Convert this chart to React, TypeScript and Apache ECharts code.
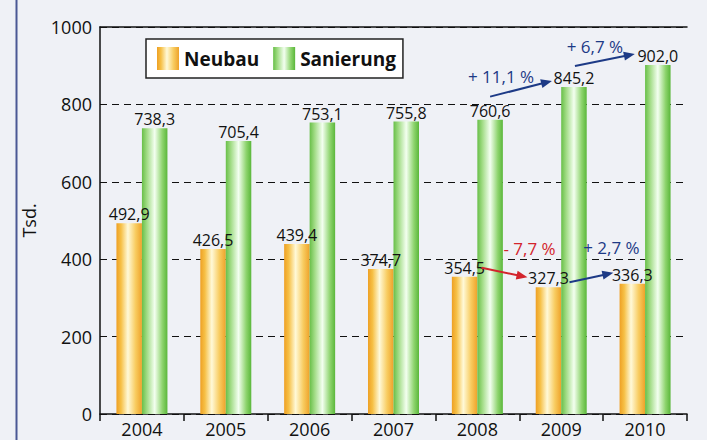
import React, { useEffect, useRef } from "react";
import * as echarts from "echarts";

const years = ["2004", "2005", "2006", "2007", "2008", "2009", "2010"];
const neubau = [492.9, 426.5, 439.4, 374.7, 354.5, 327.3, 336.3];
const sanierung = [738.3, 705.4, 753.1, 755.8, 760.6, 845.2, 902.0];
const yMin = 0;
const yMax = 1000;
const yInterval = 200;

const BLUE = "#1d3a86";
const RED = "#d3242c";
const FONT = '"Open Sans", "Liberation Sans", sans-serif';
const BAR_W = 25.5;

// annotations: arrow from one bar top to another (offsets in px from bar top centre)
const annotations = [
  { text: "+ 11,1 %", color: BLUE, s: 1, from: 4, to: 5, fo: [0, -23], to_: [-22, -6], tOff: [-20, -12] },
  { text: "+ 6,7 %", color: BLUE, s: 1, from: 5, to: 6, fo: [1, -21], to_: [-23, -11], tOff: [-10, -13] },
  { text: "- 7,7 %", color: RED, s: 0, from: 4, to: 5, fo: [17, -9], to_: [-21, -10], tOff: [25, -24] },
  { text: "+ 2,7 %", color: BLUE, s: 0, from: 5, to: 6, fo: [21, -5], to_: [-19, -11], tOff: [20, -30] },
];

const fmt = (v: number) => v.toFixed(1).replace(".", ",");

const orangeGrad = new echarts.graphic.LinearGradient(0, 0, 1, 0, [
  { offset: 0, color: "#eea024" },
  { offset: 0.18, color: "#f6c046" },
  { offset: 0.45, color: "#fff9d8" },
  { offset: 0.75, color: "#f8cc60" },
  { offset: 1, color: "#eea22a" },
]);
const greenGrad = new echarts.graphic.LinearGradient(0, 0, 1, 0, [
  { offset: 0, color: "#68bf48" },
  { offset: 0.2, color: "#a2dc86" },
  { offset: 0.5, color: "#f3fff0" },
  { offset: 0.8, color: "#8ed46e" },
  { offset: 1, color: "#5ab73a" },
]);

export default function App() {
  const ref = useRef<HTMLDivElement>(null);
  useEffect(() => {
    if (!ref.current) return;
    const chart = echarts.init(ref.current, undefined, { renderer: "svg" });
    const labelCfg = {
      show: true,
      position: "top",
      distance: 1,
      fontSize: 16,
      fontFamily: FONT,
      color: "#111",
      formatter: (p: any) => fmt(p.value),
    };
    chart.setOption({
      animation: false,
      backgroundColor: "#eff1f6",
      textStyle: { fontFamily: FONT },
      grid: { left: 100, right: 20, top: 27, bottom: 26, containLabel: false },
      legend: {
        left: 146,
        top: 39,
        icon: "rect",
        itemWidth: 22,
        itemHeight: 23,
        itemGap: 14,
        padding: [8, 7, 8, 11],
        backgroundColor: "#ffffff",
        borderColor: "#222",
        borderWidth: 1.5,
        textStyle: { fontSize: 19, fontWeight: "bold", color: "#111", fontFamily: FONT },
        data: ["Neubau", "Sanierung"],
      },
      xAxis: [
        {
          type: "category",
          data: years,
          axisLine: { lineStyle: { color: "#111", width: 1.5 } },
          axisTick: { show: true, length: 7, lineStyle: { color: "#111", width: 1.5 } },
          axisLabel: { fontSize: 18, lineHeight: 18, color: "#111", margin: 6, fontFamily: FONT },
        },
        {
          type: "category",
          position: "top",
          data: years,
          axisLine: { show: true, lineStyle: { color: "#111", width: 1.5 } },
          axisTick: { show: false },
          axisLabel: { show: false },
        },
      ],
      yAxis: {
        type: "value",
        min: yMin,
        max: yMax,
        interval: yInterval,
        name: "Tsd.",
        nameLocation: "middle",
        nameGap: 62,
        nameTextStyle: { fontSize: 18, color: "#111", fontFamily: FONT },
        axisLine: { show: true, lineStyle: { color: "#111", width: 1.5 } },
        axisTick: { show: false },
        axisLabel: { fontSize: 18, color: "#111", margin: 8, fontFamily: FONT, formatter: (v: number) => String(v) },
        splitLine: { show: true, lineStyle: { color: "#111", type: [7, 5], width: 1.2 } },
      },
      series: [
        {
          name: "Neubau",
          type: "bar",
          data: neubau,
          barWidth: BAR_W,
          barGap: "0%",
          itemStyle: { color: orangeGrad },
          label: labelCfg,
        },
        {
          name: "Sanierung",
          type: "bar",
          data: sanierung,
          barWidth: BAR_W,
          barGap: "0%",
          itemStyle: { color: greenGrad },
          label: labelCfg,
        },
      ],
    });

    const seriesData = [neubau, sanierung];
    const barTop = (s: number, i: number) => {
      const p = chart.convertToPixel({ xAxisIndex: 0, yAxisIndex: 0 }, [i, seriesData[s][i]]) as number[];
      const dx = s === 0 ? -BAR_W / 2 : BAR_W / 2;
      return [p[0] + dx, p[1]];
    };

    const graphics: any[] = [
      { type: "rect", shape: { x: 15.5, y: 0, width: 2, height: 440 }, style: { fill: "#4a5894" }, silent: true },
    ];
    annotations.forEach((a) => {
      const A = barTop(a.s, a.from);
      const B = barTop(a.s, a.to);
      const x1 = A[0] + a.fo[0];
      const y1 = A[1] + a.fo[1];
      const x2 = B[0] + a.to_[0];
      const y2 = B[1] + a.to_[1];
      const dx = x2 - x1;
      const dy = y2 - y1;
      const len = Math.sqrt(dx * dx + dy * dy);
      const ux = dx / len;
      const uy = dy / len;
      const nx = -uy;
      const ny = ux;
      const L = 11;
      const W = 4.5;
      const bx = x2 - ux * L;
      const by = y2 - uy * L;
      graphics.push({
        type: "line",
        shape: { x1, y1, x2: x2 - ux * L * 0.6, y2: y2 - uy * L * 0.6 },
        style: { stroke: a.color, lineWidth: 2 },
        silent: true,
        z: 10,
      });
      graphics.push({
        type: "polygon",
        shape: { points: [[x2, y2], [bx + nx * W, by + ny * W], [bx - nx * W, by - ny * W]] },
        style: { fill: a.color },
        silent: true,
        z: 10,
      });
      const mx = (x1 + x2) / 2;
      const my = (y1 + y2) / 2;
      graphics.push({
        type: "text",
        x: mx + a.tOff[0],
        y: my + a.tOff[1],
        style: {
          text: a.text,
          fill: a.color,
          fontSize: 17,
          fontFamily: FONT,
          align: "center",
          verticalAlign: "middle",
        },
        silent: true,
        z: 10,
      });
    });
    chart.setOption({ graphic: graphics });

    return () => chart.dispose();
  }, []);
  return (
    <div
      ref={ref}
      style={{ position: "fixed", left: 0, top: 0, width: 707, height: 440 }}
    />
  );
}
